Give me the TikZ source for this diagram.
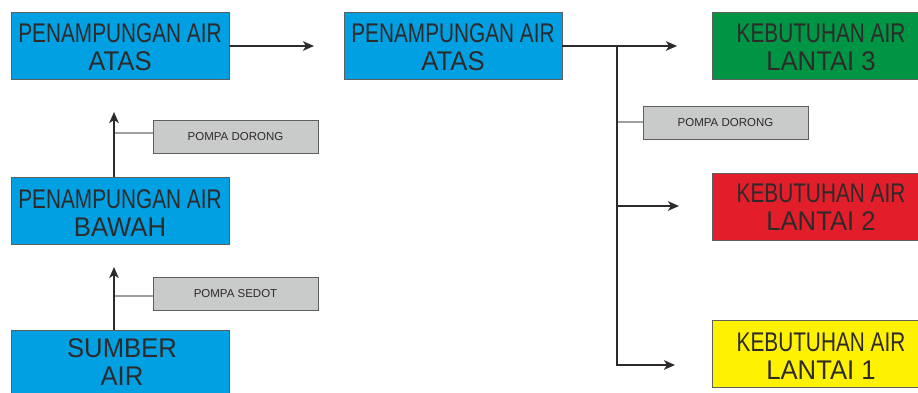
\documentclass[tikz,border=0pt]{standalone}
\usepackage{fontspec}
\setmainfont{Liberation Sans}
\newfontfamily\narrowfont[FakeStretch=0.77]{Liberation Sans}
\newfontfamily\wideline[FakeStretch=0.95]{Liberation Sans}
\usetikzlibrary{arrows.meta}
\definecolor{tankblue}{HTML}{00A0E3}
\definecolor{floorgreen}{HTML}{009445}
\definecolor{floorred}{HTML}{E31E2B}
\definecolor{flooryellow}{HTML}{FFF200}
\definecolor{pumpgray}{HTML}{C9CACA}
\definecolor{inkdark}{HTML}{2E2A2A}
\definecolor{edgegray}{HTML}{5F5F5F}
\tikzset{
  bigbox/.style={draw=edgegray, line width=0.9pt, minimum width=218pt, minimum height=67pt,
    inner sep=0pt},
  boxtext/.style={text=inkdark, align=center, inner sep=0pt,
    font=\fontsize{27}{28}\selectfont},
  pumpbox/.style={draw=edgegray, line width=0.9pt, fill=pumpgray, minimum width=165pt,
    minimum height=33pt, inner sep=0pt, text=inkdark, font=\fontsize{11.5}{12}\selectfont},
  flow/.style={draw=inkdark, line width=2.6pt, -{Stealth[length=11pt,width=9.5pt,inset=3pt]}},
  pipe/.style={draw=inkdark, line width=2.6pt},
  tap/.style={draw=gray!75, line width=1.2pt}
}
\newcommand{\twolines}[2]{{\narrowfont #1}\\{\wideline #2}}
\begin{document}
\begin{tikzpicture}[x=1pt,y=-1pt]
\useasboundingbox (0,0) rectangle (918,392);
\clip (0,0) rectangle (918,392);

% storage and source boxes
\node[bigbox, fill=tankblue] (upper) at (120,45.5) {};
\node[boxtext] (uppertext) at ([yshift=-1.8pt]upper.center) {\twolines{PENAMPUNGAN AIR}{ATAS}};
\node[bigbox, fill=tankblue] (upper2) at (453,45.5) {};
\node[boxtext] (upper2text) at ([yshift=-1.8pt]upper2.center) {\twolines{PENAMPUNGAN AIR}{ATAS}};
\node[bigbox, fill=tankblue] (lower) at (120,210.5) {};
\node[boxtext] (lowertext) at ([yshift=-2.8pt]lower.center) {\twolines{PENAMPUNGAN AIR}{BAWAH}};
\node[bigbox, fill=tankblue] (source) at (120,363.5) {};
\node[boxtext, font=\wideline\fontsize{27}{28}\selectfont] (sourcetext) at ([xshift=2pt,yshift=1.8pt]source.center) {SUMBER\\AIR};

% demand boxes per floor
\node[bigbox, fill=floorgreen] (f3) at (821,45.5) {};
\node[boxtext] (f3text) at ([yshift=-1.5pt]f3.center) {\twolines{KEBUTUHAN AIR}{LANTAI 3}};
\node[bigbox, fill=floorred] (f2) at (821,206.5) {};
\node[boxtext] (f2text) at ([yshift=-0.8pt]f2.center) {\twolines{KEBUTUHAN AIR}{LANTAI 2}};
\node[bigbox, fill=flooryellow] (f1) at (821,354) {};
\node[boxtext] (f1text) at ([yshift=-1.8pt]f1.center) {\twolines{KEBUTUHAN AIR}{LANTAI 1}};

% pumps
\node[pumpbox] (pumpA) at (235.5,136.5) {POMPA DORONG};
\node[pumpbox] (pumpB) at (235.5,294) {POMPA SEDOT};
\node[pumpbox] (pumpC) at (725.5,122.5) {POMPA DORONG};

% helper points
\coordinate (tipA) at (314,46);
\coordinate (lowbase) at (114,177);
\coordinate (tipB) at (114,112);
\coordinate (srcbase) at (114,330);
\coordinate (tipC) at (114,267);
\coordinate (split) at (617,46);
\coordinate (tip3) at (677,46);
\coordinate (branch2) at (617,206);
\coordinate (tip2) at (679,206);
\coordinate (bend1) at (617,365);
\coordinate (tip1) at (675,365);
\coordinate (tapA) at (114,133);
\coordinate (tapB) at (114,296);
\coordinate (tapC) at (617,122);

% pump taps
\draw[tap] (tapA) -- (tapA -| pumpA.west);
\draw[tap] (tapB) -- (tapB -| pumpB.west);
\draw[tap] (tapC) -- (tapC -| pumpC.west);

% flow lines
\draw[flow] (upper.east |- tipA) -- (tipA);
\draw[flow] (lowbase) -- (tipB);
\draw[flow] (srcbase) -- (tipC);
\draw[flow] (upper2.east |- split) -- (tip3);
\draw[pipe] (split) -- (bend1);
\draw[flow] ([xshift=-1.3pt]bend1) -- (tip1);
\draw[flow] (branch2) -- (tip2);
\end{tikzpicture}
\end{document}
